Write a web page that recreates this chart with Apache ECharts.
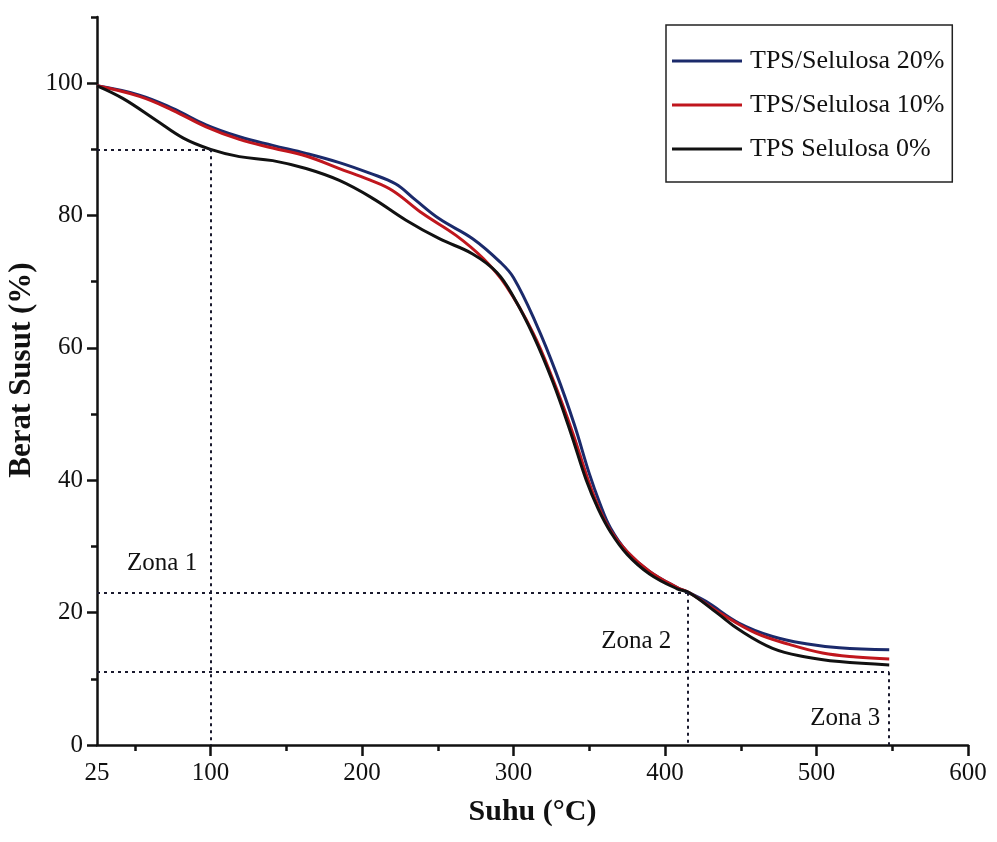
<!DOCTYPE html>
<html>
<head>
<meta charset="utf-8">
<script src="https://cdn.jsdelivr.net/npm/echarts@6/dist/echarts.min.js"></script>
<style>
    html, body { margin: 0; padding: 0; background: #fff; }
    #chart { width: 997px; height: 842px; }
</style>
</head>
<body>
<div id="chart"></div>
<script>

// TGA curves, [suhu, berat]
const selulosa20 = [
    [25, 99.6], [53, 98.2], [75, 96.2], [97, 93.7], [119, 91.9], [141, 90.6], [163, 89.4],
    [185, 88.0], [205, 86.4], [222, 84.8], [235, 82.4], [251, 79.5], [273, 76.5], [291, 73.0],
    [300, 70.6], [315, 63.6], [328, 56.3], [340, 48.5], [350, 41.0], [357, 36.5], [364, 32.8],
    [375, 29.2], [390, 26.2], [408, 23.8], [416, 23.0], [427, 21.7], [449, 18.4], [471, 16.4],
    [493, 15.3], [515, 14.7], [548, 14.4]
];
const selulosa10 = [
    [25, 99.6], [53, 98.0], [75, 95.9], [97, 93.4], [119, 91.5], [141, 90.2], [163, 89.0],
    [185, 87.1], [205, 85.4], [220, 83.8], [240, 80.3], [262, 77.0], [280, 73.5], [295, 69.4],
    [313, 62.2], [326, 55.2], [339, 47.2], [349, 40.2], [356, 36.0], [364, 32.4], [375, 29.2],
    [390, 26.2], [408, 23.8], [416, 23.0], [438, 19.7], [460, 16.9], [482, 15.2], [504, 13.9],
    [526, 13.3], [548, 13.0]
];
const selulosa0 = [
    [25, 99.6], [42, 97.7], [64, 94.4], [82, 91.7], [100, 90.0], [119, 88.9], [141, 88.3],
    [163, 87.1], [185, 85.3], [207, 82.6], [229, 79.3], [251, 76.5], [273, 74.2], [289, 71.4],
    [300, 67.7], [313, 61.9], [326, 54.8], [338, 47.0], [348, 40.0], [356, 35.6], [364, 32.2],
    [375, 28.8], [390, 25.8], [408, 23.6], [416, 23.0], [434, 20.0], [449, 17.4], [471, 14.6],
    [493, 13.3], [515, 12.6], [548, 12.1]
];

const seriesNames = ['TPS/Selulosa 20%', 'TPS/Selulosa 10%', 'TPS Selulosa 0%'];

// zone boundaries (dashed guides)
const zoneX = [100, 415, 548];
const zoneY = [90, 23, 11];

const zoneLabels = [
    [68, 27.5, 'Zona 1'],
    [381, 15.7, 'Zona 2'],
    [519, 4.0, 'Zona 3']
];

const xLabelValues = [25, 100, 200, 300, 400, 500, 600];
const xMajorTicks = [100, 200, 300, 400, 500, 600];
const xMinorTicks = [50, 150, 250, 350, 450, 550];
const yLabelValues = [0, 20, 40, 60, 80, 100];
const yMinorTicks = [10, 30, 50, 70, 90, 110];

const font = 'Liberation Serif';
const ink = '#111';

const chart = echarts.init(document.getElementById('chart'));

const guideLines = [];
zoneX.forEach((x, i) => {
    guideLines.push([{ coord: [25, zoneY[i]] }, { coord: [x, zoneY[i]] }]);
    guideLines.push([{ coord: [x, zoneY[i]] }, { coord: [x, 0] }]);
});

const curve = (name, data, color) => ({
    name: name,
    type: 'line',
    smooth: 0.4,
    showSymbol: false,
    data: data,
    itemStyle: { color: color },
    lineStyle: { width: 3, color: color }
});

const option = {
    backgroundColor: '#fff',
    animation: false,
    grid: {
        left: 97,
        right: 29,
        top: 17,
        bottom: 97,
        outerBoundsMode: 'none'
    },
    legend: {
        data: seriesNames,
        orient: 'vertical',
        left: 666,
        top: 25,
        icon: 'rect',
        itemWidth: 70,
        itemHeight: 3,
        itemGap: 18,
        padding: [23, 8, 20, 6],
        borderColor: '#222',
        borderWidth: 1.5,
        textStyle: {
            fontFamily: font,
            fontSize: 26,
            color: ink,
            padding: [0, 0, 0, 3]
        }
    },
    xAxis: [
        {
            type: 'value',
            min: 25,
            max: 600,
            position: 'bottom',
            name: 'Suhu (°C)',
            nameLocation: 'middle',
            nameGap: 52,
            nameMoveOverlap: false,
            nameTextStyle: {
                fontFamily: font,
                fontWeight: 'bold',
                fontSize: 30,
                color: ink
            },
            axisLine: { lineStyle: { color: ink, width: 2.5 } },
            axisTick: {
                customValues: xMajorTicks,
                length: 11,
                lineStyle: { color: ink, width: 2.5 }
            },
            axisLabel: {
                customValues: xLabelValues,
                margin: 16,
                fontFamily: font,
                fontSize: 25,
                color: ink
            },
            splitLine: { show: false }
        },
        {
            type: 'value',
            min: 25,
            max: 600,
            position: 'bottom',
            axisLine: { show: false },
            axisTick: {
                customValues: xMinorTicks,
                length: 6,
                lineStyle: { color: ink, width: 2.5 }
            },
            axisLabel: { show: false },
            splitLine: { show: false }
        }
    ],
    yAxis: [
        {
            type: 'value',
            min: 0,
            max: 110,
            name: 'Berat Susut (%)',
            nameLocation: 'middle',
            nameGap: 60,
            nameMoveOverlap: false,
            nameTextStyle: {
                fontFamily: font,
                fontWeight: 'bold',
                fontSize: 31,
                color: ink,
                padding: [0, 0, 0, 22]
            },
            axisLine: { show: true, lineStyle: { color: ink, width: 2.5 } },
            axisTick: {
                show: true,
                customValues: yLabelValues,
                length: 10,
                lineStyle: { color: ink, width: 2.5 }
            },
            axisLabel: {
                customValues: yLabelValues,
                margin: 14,
                fontFamily: font,
                fontSize: 25,
                color: ink
            },
            splitLine: { show: false }
        },
        {
            type: 'value',
            min: 0,
            max: 110,
            position: 'left',
            axisLine: { show: false },
            axisTick: {
                show: true,
                customValues: yMinorTicks,
                length: 6,
                lineStyle: { color: ink, width: 2.5 }
            },
            axisLabel: { show: false },
            splitLine: { show: false }
        }
    ],
    series: [
        {
            name: 'guides',
            type: 'line',
            data: [],
            silent: true,
            markLine: {
                silent: true,
                symbol: 'none',
                label: { show: false },
                lineStyle: { type: [3, 4], color: '#1a1a2e', width: 2 },
                data: guideLines
            }
        },
        curve(seriesNames[0], selulosa20, '#1b2a6b'),
        curve(seriesNames[1], selulosa10, '#c0161d'),
        curve(seriesNames[2], selulosa0, '#111'),
        {
            name: 'zona',
            type: 'scatter',
            symbolSize: 1,
            silent: true,
            itemStyle: { color: 'transparent', opacity: 1 },
            data: zoneLabels,
            label: {
                show: true,
                position: 'inside',
                formatter: p => p.value[2],
                fontFamily: font,
                fontSize: 25,
                color: ink,
                opacity: 1
            }
        }
    ]
};

option && chart.setOption(option);

</script>
</body>
</html>
